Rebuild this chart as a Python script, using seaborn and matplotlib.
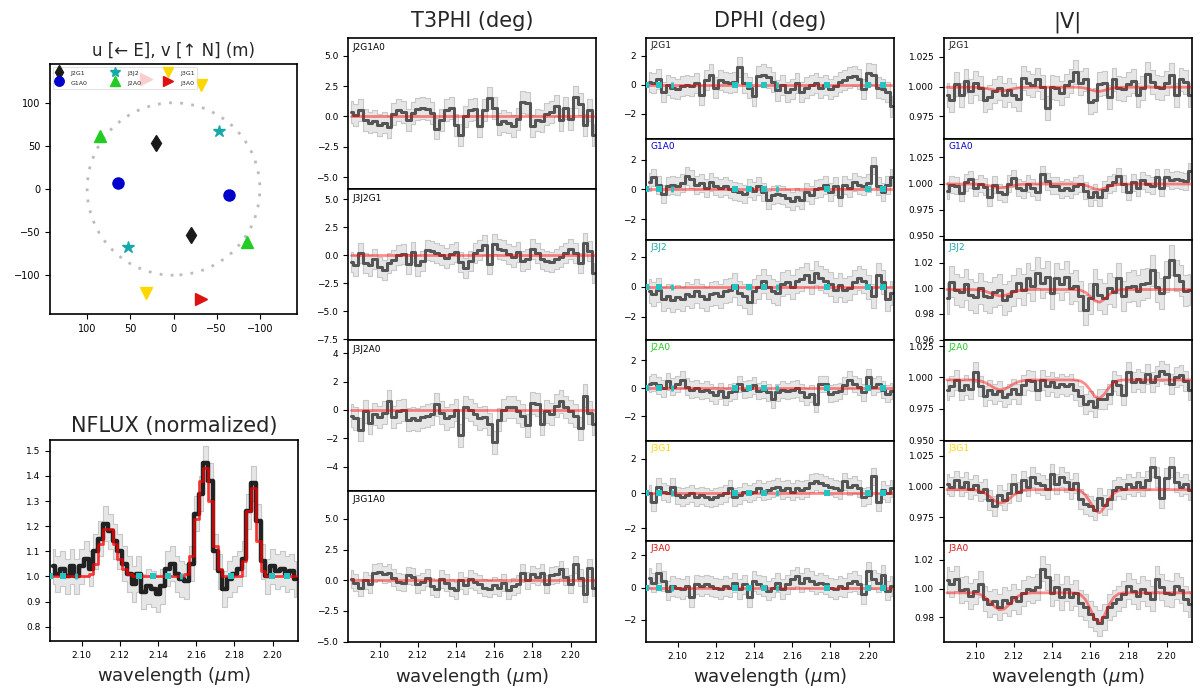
import numpy as np
import seaborn as sns
import matplotlib.pyplot as plt
from matplotlib.patches import Circle

# spectral channels (micron)
wavelength = [2.0850, 2.0875, 2.0900, 2.0925, 2.0950, 2.0975, 2.1000, 2.1025, 2.1050, 2.1075,
              2.1100, 2.1125, 2.1150, 2.1175, 2.1200, 2.1225, 2.1250, 2.1275, 2.1300, 2.1325,
              2.1350, 2.1375, 2.1400, 2.1425, 2.1450, 2.1475, 2.1500, 2.1525, 2.1550, 2.1575,
              2.1600, 2.1625, 2.1650, 2.1675, 2.1700, 2.1725, 2.1750, 2.1775, 2.1800, 2.1825,
              2.1850, 2.1875, 2.1900, 2.1925, 2.1950, 2.1975, 2.2000, 2.2025, 2.2050, 2.2075,
              2.2100, 2.2125]

# continuum channels (cyan markers)
cont_wl = [2.0835, 2.0905, 2.1301, 2.1376, 2.1453, 2.1784, 2.1998, 2.2073]
cont_wl_narrow = [2.0973, 2.1522]

# uv coverage (m)
uv_names = ['J2G1', 'G1A0', 'J3J2', 'J2A0', 'J3G1', 'J3A0']
uv_u = [20.0, 64.5, -53.0, 85.0, 32.0, -32.0]
uv_v = [53.0, 7.5, 67.0, 61.0, -121.0, -128.0]

# normalized flux
flux_data = [1.04, 1.01, 1.03, 1.00, 1.04, 1.00, 1.04, 1.07, 1.03, 1.10,
             1.15, 1.21, 1.18, 1.14, 1.10, 1.05, 1.01, 0.97, 1.01, 0.94,
             0.96, 0.95, 0.93, 0.96, 1.03, 1.05, 1.01, 0.99, 0.98, 1.05,
             1.25, 1.33, 1.45, 1.38, 1.10, 1.02, 0.95, 0.99, 1.01, 1.03,
             1.07, 1.26, 1.37, 1.22, 1.06, 1.00, 1.04, 1.02, 1.03, 1.01,
             1.02, 0.99]
flux_model = [1.0, 1.0, 1.0, 1.0, 1.0, 1.0, 1.0, 1.0, 1.01, 1.05,
              1.13, 1.19, 1.19, 1.13, 1.07, 1.03, 1.01, 1.0, 1.0, 1.0,
              1.0, 1.0, 1.0, 1.0, 1.0, 1.0, 1.0, 1.0, 1.01, 1.08,
              1.23, 1.38, 1.43, 1.30, 1.12, 1.03, 1.0, 1.0, 1.0, 1.0,
              1.06, 1.26, 1.35, 1.14, 1.02, 1.0, 1.0, 1.0, 1.0, 1.0,
              1.0, 1.0]
flux_err = 0.07

# closure phases (deg)
t3_names = ['J2G1A0', 'J3J2G1', 'J3J2A0', 'J3G1A0']
t3_j2g1a0 = [0.4, 0.1, 0.5, -0.3, -0.5, -0.4, -0.7, -0.5, -0.9, 0.2,
             0.5, 0.4, -0.3, 0.3, 0.6, 0.7, 0.6, 0.3, -1.0, -0.3,
             0.5, 0.7, -0.7, -1.5, 0.0, 0.5, 0.6, -0.8, 0.5, 1.5,
             0.7, -0.6, -0.4, -0.5, -0.8, -0.2, 1.2, 1.1, -0.8, -0.3,
             -0.4, 0.2, 0.4, 0.9, -0.3, 0.7, -0.2, 1.6, 1.0, -0.7,
             0.5, -1.5]
t3_j3j2g1 = [-0.6, -0.9, 0.2, -0.7, -0.9, -0.3, -1.0, -1.3, -0.7, -0.4,
             0.0, 0.1, -0.8, 0.3, -0.9, -0.5, 0.5, 0.4, 0.2, 0.0,
             -0.2, 0.1, 0.3, -0.6, -1.1, -0.5, 0.2, 0.5, 0.9, -0.8,
             1.0, 0.6, 0.5, 0.1, -0.1, 0.3, -0.5, -0.3, 0.6, 0.2,
             -0.3, -0.5, -0.6, -0.3, -0.1, 0.2, 0.6, 0.2, -0.7, 1.1,
             0.4, -1.6]
t3_j3j2a0 = [-0.4, -0.6, -1.4, -0.1, -0.9, -0.3, -0.5, -0.2, 0.6, -0.5,
             -0.1, 0.0, -0.7, -0.6, -0.7, -0.5, -0.4, -0.3, 0.4, -0.2,
             -0.6, -0.4, 0.0, -1.8, 0.2, 0.0, -0.3, -0.6, -0.5, -1.0,
             -2.3, -0.7, 0.0, 0.2, 0.2, -0.1, -0.4, -1.1, 0.5, 0.4,
             -1.0, -0.1, -0.3, 0.3, 0.6, 0.2, -0.1, -0.4, -1.3, 1.0,
             -0.2, -1.0]
t3_j3g1a0 = [0.1, -0.2, -0.6, 0.0, -0.3, 0.6, 0.7, 0.5, 0.6, 0.2,
             -0.1, -0.2, 0.4, 0.3, -0.3, -0.1, 0.2, -0.5, -0.7, 0.1,
             -0.2, -0.6, -0.8, 0.0, -0.4, 0.1, -0.1, -0.3, -0.6, -0.7,
             -0.4, -0.6, -0.2, -0.8, -0.5, -0.3, 0.6, 0.0, 0.5, 0.3,
             0.6, -0.3, 0.4, 0.5, 0.9, 0.3, -0.3, 1.3, 0.2, -1.1,
             1.0, -0.6]
t3_err = [0.9, 0.9, 0.8, 0.7]
t3_model_level = 0.0

# differential phases (deg)
dphi_j2g1 = [0.2, 0.1, 0.4, -0.5, 0.0, -0.2, -0.3, -0.1, 0.0, -0.1,
             0.1, -0.7, 0.3, 0.7, -0.2, 0.3, 0.2, 0.1, 0.2, 1.2,
             0.1, -0.2, -0.8, 0.6, 0.7, 0.5, 0.2, -0.4, 0.0, -0.5,
             -0.3, 0.1, -0.5, -0.2, 0.0, 0.1, -0.2, 0.0, -0.3, -0.1,
             0.2, 0.3, 0.5, 0.6, 0.4, -0.3, 0.8, 0.7, -0.2, -0.3,
             -0.5, -1.5]
dphi_g1a0 = [0.5, 0.8, 0.3, -0.3, 0.2, 0.3, 0.2, 0.4, 0.9, 0.7,
             0.3, 0.4, 0.1, 0.5, 0.2, 0.1, 0.2, 0.0, -0.1, -0.2,
             -0.3, 0.1, -0.1, 0.2, -0.2, -0.7, -0.4, -0.3, -0.4, -0.6,
             -0.8, -0.5, -0.7, -0.2, -0.4, 0.0, 0.1, 0.3, -0.2, 0.2,
             -0.5, 0.3, 0.1, 0.5, 0.3, 0.2, 0.4, 1.6, 0.2, -0.2,
             0.3, 0.8]
dphi_j3j2 = [-0.3, -0.5, -0.2, -0.8, -0.6, -0.9, -0.7, -0.8, -0.5, -0.6,
             -0.3, -0.6, -0.8, -0.5, -0.4, -0.6, -0.3, -0.2, 0.1, -0.4,
             -0.6, -1.0, -0.3, 0.0, 0.4, 0.0, -0.3, -0.4, 0.2, 0.3,
             0.0, 0.4, 0.5, 0.8, 0.3, 0.9, 0.6, 0.4, 0.2, -0.2,
             0.1, -0.2, -0.1, 0.3, 0.6, 0.4, 0.0, -0.6, 0.8, 0.3,
             -0.8, -0.4]
dphi_j2a0 = [0.3, 0.4, 0.2, 0.0, 0.5, 0.1, 0.3, 0.6, 0.1, -0.1,
             0.0, -0.2, -0.1, -0.3, -0.5, -0.2, -0.6, -0.3, -0.2, 0.3,
             -0.1, 0.0, 0.2, -0.2, -0.1, -0.3, -0.8, -0.3, -0.1, -0.2,
             -0.1, 0.0, -0.3, -0.6, -0.4, -1.1, 0.3, 0.3, -0.4, -0.3,
             -0.2, 0.2, 0.6, 0.3, 0.1, -0.3, 0.8, 0.1, 0.3, -0.1,
             -0.4, -0.2]
dphi_j3g1 = [0.0, -0.5, 0.4, 0.1, 0.0, 0.4, -0.1, -0.2, -0.1, 0.0,
             -0.2, -0.1, -0.2, -0.3, -0.2, -0.1, 0.0, 0.3, -0.2, -0.1,
             0.1, 0.0, 0.1, 0.3, 0.1, 0.2, 0.3, 0.4, 0.2, 0.3,
             0.1, 0.3, 0.2, 0.3, 0.6, 0.7, 0.6, 0.5, 0.4, 0.3,
             0.2, 0.7, 0.4, 0.5, 0.3, -0.2, -0.1, 1.0, -0.5, 0.2,
             0.0, 0.3]
dphi_j3a0 = [0.6, 0.3, 0.9, 0.4, -0.2, 0.1, 0.0, -0.1, 0.1, -0.6,
             0.2, 0.1, 0.2, 0.1, 0.0, -0.1, 0.1, 0.0, 0.3, -0.1,
             0.2, -0.6, 0.4, 0.2, 0.1, -0.2, 0.0, 0.3, -0.1, 0.2,
             0.5, 0.7, 0.3, 0.6, 0.4, 0.2, 0.3, 0.2, 0.0, -0.1,
             0.1, 0.0, 0.3, 0.4, 0.2, -0.4, 1.0, 0.5, 0.3, 0.8,
             -0.2, 0.1]
dphi_err = [0.7, 0.6, 0.8, 0.6, 0.5, 0.6]
dphi_model_level = 0.0

# visibility amplitudes
vis_j2g1 = [0.993, 0.989, 1.002, 0.993, 1.005, 0.996, 1.003, 0.999, 0.989, 0.991,
            0.996, 0.999, 0.993, 0.997, 0.993, 0.990, 1.007, 1.003, 1.001, 1.006,
            1.000, 0.982, 1.000, 0.999, 0.995, 1.001, 1.005, 1.012, 1.003, 1.006,
            0.987, 0.989, 1.002, 1.003, 0.991, 1.006, 0.999, 0.998, 1.002, 1.005,
            0.993, 0.999, 1.011, 1.004, 1.000, 0.999, 1.003, 1.010, 0.993, 1.006,
            1.004, 0.993]
vis_g1a0 = [0.993, 0.999, 0.998, 0.991, 1.001, 1.004, 0.996, 1.000, 0.997, 0.987,
            0.999, 0.992, 0.990, 1.000, 1.005, 0.996, 0.994, 1.000, 0.996, 0.992,
            1.009, 1.002, 0.998, 0.998, 0.994, 0.996, 0.994, 0.998, 1.000, 0.993,
            0.987, 0.992, 0.987, 0.994, 0.999, 1.001, 1.007, 1.000, 0.992, 1.001,
            0.996, 1.003, 1.000, 0.998, 1.006, 0.996, 1.006, 1.003, 1.004, 1.003,
            1.002, 1.012]
vis_j3j2 = [0.992, 1.005, 0.999, 0.997, 1.003, 0.995, 0.993, 1.000, 0.994, 0.993,
            0.997, 0.999, 0.991, 0.994, 0.998, 1.004, 0.999, 1.008, 1.002, 1.012,
            1.004, 1.009, 0.996, 1.008, 1.003, 1.009, 1.000, 1.002, 0.994, 0.983,
            0.992, 1.003, 0.995, 0.992, 1.000, 0.997, 1.008, 0.994, 1.001, 1.002,
            0.998, 1.003, 1.004, 1.014, 1.001, 0.996, 1.009, 1.022, 1.010, 1.006,
            0.998, 0.999]
vis_j2a0 = [0.990, 0.993, 0.998, 0.990, 0.994, 0.991, 1.004, 0.993, 0.985, 0.990,
            0.987, 0.989, 0.984, 0.987, 0.991, 0.987, 0.994, 0.998, 0.997, 0.990,
            0.998, 0.993, 0.996, 0.992, 0.995, 0.993, 0.995, 0.990, 0.985, 0.979,
            0.981, 0.976, 0.983, 0.983, 0.987, 0.997, 0.994, 0.986, 1.004, 0.996,
            0.999, 0.996, 1.003, 0.996, 1.001, 1.005, 1.003, 0.995, 1.000, 1.002,
            0.997, 0.990]
vis_j3g1 = [1.002, 1.000, 1.005, 1.000, 1.004, 0.998, 1.001, 0.996, 0.998, 0.989,
            0.984, 0.993, 0.989, 0.995, 1.002, 0.996, 1.005, 1.000, 1.008, 1.003,
            1.001, 0.998, 1.010, 1.002, 1.008, 1.004, 0.998, 1.003, 0.990, 0.986,
            0.984, 0.981, 0.991, 0.985, 0.990, 0.997, 1.000, 0.998, 1.002, 1.000,
            1.004, 1.000, 1.005, 1.016, 1.008, 0.991, 1.007, 1.016, 1.004, 1.000,
            1.002, 0.997]
vis_j3a0 = [1.006, 1.003, 1.007, 0.999, 1.000, 0.995, 0.998, 1.003, 0.993, 0.989,
            0.991, 0.987, 0.992, 0.990, 0.994, 0.991, 0.997, 1.000, 0.999, 1.001,
            1.014, 1.008, 0.997, 1.001, 0.994, 1.000, 0.994, 0.997, 0.990, 0.987,
            0.982, 0.979, 0.976, 0.980, 0.987, 0.990, 0.993, 0.996, 1.002, 0.998,
            0.995, 1.000, 0.997, 0.993, 1.007, 1.001, 0.997, 0.996, 1.002, 0.999,
            0.993, 0.989]
vis_err = [0.010, 0.008, 0.012, 0.008, 0.008, 0.009]

vis_model_j2g1 = [0.9995, 0.9995, 0.9995, 0.9995, 0.9995, 0.9995, 0.9994, 0.9992, 0.9987, 0.9979,
                  0.9971, 0.9965, 0.9967, 0.9974, 0.9983, 0.9990, 0.9993, 0.9994, 0.9995, 0.9995,
                  0.9995, 0.9995, 0.9995, 0.9995, 0.9995, 0.9995, 0.9995, 0.9995, 0.9993, 0.9987,
                  0.9976, 0.9964, 0.9960, 0.9969, 0.9981, 0.9990, 0.9994, 0.9995, 0.9995, 0.9995,
                  0.9995, 0.9995, 0.9995, 0.9995, 0.9995, 0.9995, 0.9995, 0.9995, 0.9995, 0.9995,
                  0.9995, 0.9995]
vis_model_g1a0 = [0.9995, 0.9995, 0.9995, 0.9995, 0.9995, 0.9995, 0.9994, 0.9991, 0.9986, 0.9977,
                  0.9967, 0.9960, 0.9962, 0.9971, 0.9981, 0.9989, 0.9993, 0.9994, 0.9995, 0.9995,
                  0.9995, 0.9995, 0.9995, 0.9995, 0.9995, 0.9995, 0.9995, 0.9995, 0.9992, 0.9983,
                  0.9966, 0.9947, 0.9941, 0.9954, 0.9974, 0.9987, 0.9993, 0.9995, 0.9995, 0.9995,
                  0.9995, 0.9995, 0.9995, 0.9995, 0.9995, 0.9995, 0.9995, 0.9995, 0.9995, 0.9995,
                  0.9995, 0.9995]
vis_model_j3j2 = [0.9990, 0.9990, 0.9990, 0.9990, 0.9990, 0.9990, 0.9988, 0.9985, 0.9977, 0.9964,
                  0.9950, 0.9940, 0.9943, 0.9955, 0.9970, 0.9981, 0.9987, 0.9989, 0.9990, 0.9990,
                  0.9990, 0.9990, 0.9990, 0.9990, 0.9990, 0.9990, 0.9990, 0.9989, 0.9984, 0.9968,
                  0.9937, 0.9902, 0.9891, 0.9915, 0.9951, 0.9976, 0.9987, 0.9990, 0.9990, 0.9990,
                  0.9990, 0.9990, 0.9990, 0.9990, 0.9990, 0.9990, 0.9990, 0.9990, 0.9990, 0.9990,
                  0.9990, 0.9990]
vis_model_j2a0 = [0.9980, 0.9980, 0.9980, 0.9980, 0.9980, 0.9980, 0.9978, 0.9972, 0.9959, 0.9938,
                  0.9915, 0.9901, 0.9905, 0.9924, 0.9948, 0.9966, 0.9975, 0.9978, 0.9980, 0.9980,
                  0.9980, 0.9980, 0.9980, 0.9980, 0.9980, 0.9980, 0.9980, 0.9979, 0.9971, 0.9947,
                  0.9901, 0.9848, 0.9832, 0.9868, 0.9922, 0.9959, 0.9976, 0.9980, 0.9980, 0.9980,
                  0.9980, 0.9980, 0.9980, 0.9980, 0.9980, 0.9980, 0.9980, 0.9980, 0.9980, 0.9980,
                  0.9980, 0.9980]
vis_model_j3g1 = [0.9975, 0.9975, 0.9975, 0.9975, 0.9975, 0.9975, 0.9972, 0.9964, 0.9946, 0.9918,
                  0.9886, 0.9866, 0.9872, 0.9898, 0.9931, 0.9955, 0.9968, 0.9973, 0.9975, 0.9975,
                  0.9975, 0.9975, 0.9975, 0.9975, 0.9975, 0.9975, 0.9975, 0.9973, 0.9964, 0.9933,
                  0.9874, 0.9808, 0.9787, 0.9832, 0.9901, 0.9948, 0.9969, 0.9975, 0.9975, 0.9975,
                  0.9975, 0.9975, 0.9975, 0.9975, 0.9975, 0.9975, 0.9975, 0.9975, 0.9975, 0.9975,
                  0.9975, 0.9975]
vis_model_j3a0 = [0.9970, 0.9970, 0.9970, 0.9970, 0.9970, 0.9970, 0.9966, 0.9958, 0.9939, 0.9908,
                  0.9873, 0.9851, 0.9857, 0.9886, 0.9922, 0.9948, 0.9963, 0.9968, 0.9970, 0.9970,
                  0.9970, 0.9970, 0.9970, 0.9970, 0.9970, 0.9970, 0.9970, 0.9968, 0.9957, 0.9924,
                  0.9859, 0.9785, 0.9762, 0.9813, 0.9888, 0.9941, 0.9964, 0.9970, 0.9970, 0.9970,
                  0.9970, 0.9970, 0.9970, 0.9970, 0.9970, 0.9970, 0.9970, 0.9970, 0.9970, 0.9970,
                  0.9970, 0.9970]

# axis settings
XLIM = (2.0835, 2.2133)
XTICKS = [2.10, 2.12, 2.14, 2.16, 2.18, 2.20]
t3_ylims = [(-6.0, 6.45), (-7.56, 5.92), (-5.72, 4.94), (-5.0, 7.28)]
t3_yticks = [[-5, -2.5, 0, 2.5, 5], [-7.5, -5, -2.5, 0, 2.5, 5], [-4, -2, 0, 2, 4], [-5, -2.5, 0, 2.5, 5]]
dphi_ylims = [(-3.74, 3.2), (-3.35, 3.38), (-3.55, 3.16), (-3.75, 3.44), (-2.77, 3.05), (-3.37, 2.86)]
vis_ylims = [(0.9562, 1.0405), (0.9466, 1.0425), (0.9595, 1.038), (0.9494, 1.0298), (0.9555, 1.0372), (0.9626, 1.033)]
vis_yticks = [[0.975, 1.0, 1.025], [0.95, 0.975, 1.0, 1.025], [0.96, 0.98, 1.0, 1.02],
              [0.95, 0.975, 1.0, 1.025], [0.975, 1.0, 1.025], [0.98, 1.0, 1.02]]

bl_colors = ['k', '#0000cc', '#17a8a8', '#22cc22', '#ffd700', '#dd1111']
bl_markers = ['d', 'o', '*', '^', 'v', '>']

sns.set_theme(style="ticks")
plt.rcParams['font.family'] = ['DejaVu Sans']
plt.rcParams.update({
    'axes.linewidth': 1.2,
    'axes.edgecolor': 'black',
    'xtick.labelsize': 6.5,
    'ytick.labelsize': 6.5,
    'xtick.major.size': 3.5,
    'ytick.major.size': 3.5,
    'xtick.major.width': 0.8,
    'ytick.major.width': 0.8,
    'xtick.color': 'black',
    'ytick.color': 'black',
})

fig = plt.figure(figsize=(12, 7), dpi=100)


def px_axes(left, right, top, bottom):
    return fig.add_axes([left / 1200, 1 - bottom / 700, (right - left) / 1200, (bottom - top) / 700])


def style_spec(ax, ylim, yticks, bottom_panel):
    ax.set_xlim(XLIM)
    ax.set_ylim(ylim)
    ax.set_yticks(yticks)
    ax.ticklabel_format(axis='y', useOffset=False)
    ax.set_xticks(XTICKS)
    if bottom_panel:
        ax.set_xlabel(r'wavelength ($\mu$m)', fontsize=13)
    else:
        ax.tick_params(axis='x', bottom=False, labelbottom=False)


def draw_spec(ax, values, err, model, label, label_color):
    y = np.array(values)
    ax.fill_between(wavelength, y - err, y + err, step='mid', facecolor='#e6e6e6',
                    edgecolor='#c8c8c8', linewidth=0.8, zorder=1)
    sns.lineplot(x=wavelength, y=values, ax=ax, drawstyle='steps-mid', color='#555555',
                 linewidth=2.2, zorder=2)
    sns.lineplot(x=wavelength, y=model, ax=ax, color='red', alpha=0.45, linewidth=2, zorder=3)
    ax.text(0.02, 0.97, label, transform=ax.transAxes, ha='left', va='top',
            fontsize=6.5, color=label_color)


def draw_continuum(ax, level):
    ax.plot(cont_wl, [level] * len(cont_wl), 's', color='#22c4c4', ms=4, mew=0, zorder=4)
    ax.plot(cont_wl_narrow, [level] * len(cont_wl_narrow), '|', color='#22c4c4', ms=4.5,
            mew=2, zorder=4)


# ---- uv plane ----
ax_uv = px_axes(50, 297, 64, 314)
ax_uv.add_patch(Circle((0, 0), 100, fill=False, color='#bbbbbb', lw=2, ls=(0, (1, 3))))
for name, u, v, col, mk in zip(uv_names, uv_u, uv_v, bl_colors, bl_markers):
    ms = 9 if mk == '*' else 8
    ax_uv.plot([u, -u], [v, -v], ls='none', marker=mk, color=col, ms=ms, label=name)
ax_uv.set_xlim(143, -143)
ax_uv.set_ylim(-145, 145)
ax_uv.set_xticks([100, 50, 0, -50, -100])
ax_uv.set_yticks([100, 50, 0, -50, -100])
ax_uv.tick_params(labelsize=7)
ax_uv.set_title(u'u [\u2190 E], v [\u2191 N] (m)', fontsize=12, pad=6)
leg = ax_uv.legend(loc='upper left', ncol=3, fontsize=4.5, markerscale=0.85, handletextpad=1.3,
                   columnspacing=3.8, borderpad=0.3, labelspacing=0.1, framealpha=0.8,
                   handlelength=1.2, handleheight=1.75, borderaxespad=0.5)
leg.get_frame().set_linewidth(0.5)

# ---- normalized flux ----
ax_fl = px_axes(50, 298, 440, 641)
yfl = np.array(flux_data)
ax_fl.fill_between(wavelength, yfl - flux_err, yfl + flux_err, step='mid', facecolor='#e6e6e6',
                   edgecolor='#c8c8c8', linewidth=0.8, zorder=1)
sns.lineplot(x=wavelength, y=flux_data, ax=ax_fl, drawstyle='steps-mid', color='black',
             alpha=0.85, linewidth=3.2, zorder=2)
sns.lineplot(x=wavelength, y=flux_model, ax=ax_fl, drawstyle='steps-mid', color='red',
             alpha=0.75, linewidth=2, zorder=3)
draw_continuum(ax_fl, 1.0)
style_spec(ax_fl, (0.743, 1.543), [0.8, 0.9, 1.0, 1.1, 1.2, 1.3, 1.4, 1.5], True)
ax_fl.set_title('NFLUX (normalized)', fontsize=15, pad=6)

# ---- closure phases ----
t3_values = [t3_j2g1a0, t3_j3j2g1, t3_j3j2a0, t3_j3g1a0]
t3_h = (641.7 - 38.3) / 4
for i, vals in enumerate(t3_values):
    ax = px_axes(348, 596, 38.3 + i * t3_h, 38.3 + (i + 1) * t3_h)
    draw_spec(ax, vals, t3_err[i], np.full(len(wavelength), t3_model_level), t3_names[i], 'black')
    style_spec(ax, t3_ylims[i], t3_yticks[i], i == 3)
    if i == 0:
        ax.set_title('T3PHI (deg)', fontsize=15, pad=8)

# ---- differential phases ----
dphi_values = [dphi_j2g1, dphi_g1a0, dphi_j3j2, dphi_j2a0, dphi_j3g1, dphi_j3a0]
ph = (642 - 38.3) / 6
for i, vals in enumerate(dphi_values):
    ax = px_axes(646, 894, 38.3 + i * ph, 38.3 + (i + 1) * ph)
    draw_spec(ax, vals, dphi_err[i], np.full(len(wavelength), dphi_model_level),
              uv_names[i], bl_colors[i])
    draw_continuum(ax, dphi_model_level)
    style_spec(ax, dphi_ylims[i], [-2, 0, 2], i == 5)
    if i == 0:
        ax.set_title('DPHI (deg)', fontsize=15, pad=8)

# ---- visibility amplitudes ----
vis_values = [vis_j2g1, vis_g1a0, vis_j3j2, vis_j2a0, vis_j3g1, vis_j3a0]
vis_models = [vis_model_j2g1, vis_model_g1a0, vis_model_j3j2, vis_model_j2a0,
              vis_model_j3g1, vis_model_j3a0]
for i, vals in enumerate(vis_values):
    ax = px_axes(944, 1192, 38.3 + i * ph, 38.3 + (i + 1) * ph)
    draw_spec(ax, vals, vis_err[i], vis_models[i], uv_names[i], bl_colors[i])
    style_spec(ax, vis_ylims[i], vis_yticks[i], i == 5)
    if i == 0:
        ax.set_title('|V|', fontsize=15, pad=8)

fig.savefig('out.png', dpi=100)
